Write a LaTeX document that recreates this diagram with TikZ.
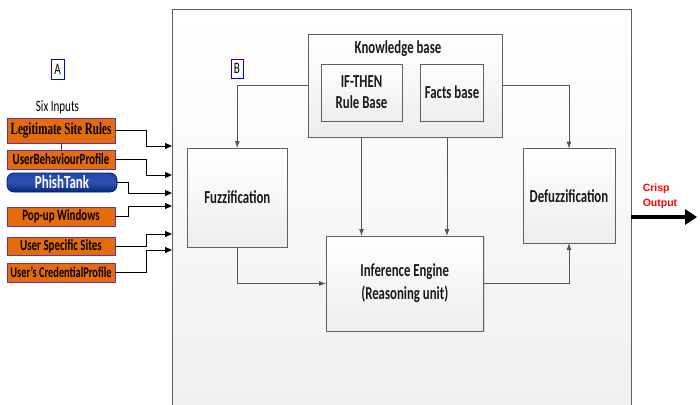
\documentclass[tikz,border=0pt]{standalone}
\usepackage{fontspec}
\setmainfont{Carlito}
\newfontfamily\cbn[FakeStretch=0.7]{Carlito}
\newfontfamily\tnr[FakeStretch=0.65]{Liberation Serif}
\newfontfamily\ari{Liberation Sans}
\usetikzlibrary{arrows.meta,shadows}
\definecolor{orng}{RGB}{228,108,10}
\definecolor{purp}{RGB}{112,48,160}
\definecolor{pblue}{RGB}{10,50,165}
\definecolor{bord}{RGB}{96,96,96}
\definecolor{conn}{RGB}{85,85,85}
\tikzset{
  blk/.style={draw=bord, line width=0.8pt, top color=white, bottom color=gray!14,
    inner sep=0pt, outer sep=0pt, align=center, text=black!90,
    font=\cbn\bfseries\fontsize{18.3}{21}\selectfont,
    drop shadow={opacity=0.25, shadow xshift=1.2pt, shadow yshift=-1.2pt}},
  inp/.style={draw=purp, line width=0.9pt, fill=orng, inner sep=0pt, outer sep=0pt,
    minimum width=108pt, text=black,
    font=\cbn\bfseries\fontsize{15.6}{16}\selectfont},
  garr/.style={draw=conn, line width=0.8pt, -{Latex[length=7pt,width=5pt]}},
  barr/.style={draw=black, line width=1pt, -{Triangle[length=7pt,width=6pt]}},
  tag/.style={draw=blue, line width=0.8pt, fill=white, inner sep=0pt,
    font=\cbn\fontsize{16}{16}\selectfont}
}
\begin{document}
\begin{tikzpicture}[x=1pt,y=-1pt]
\useasboundingbox (0,0) rectangle (700,404);
% system frame (open at the bottom of the picture)
\node[draw=gray!75!black, line width=0.9pt, top color=white, bottom color=gray!12,
  inner sep=0pt, outer sep=0pt, anchor=north west,
  minimum width=459pt, minimum height=404pt] (sys) at (172,9.5) {};

% knowledge base
\node[blk, minimum width=194pt, minimum height=103pt] (kb) at (405,85.5) {};
\node[font=\cbn\bfseries\fontsize{18.3}{21}\selectfont, text=black!90, inner sep=0pt] (kbt) at (398,49) {Knowledge base};
\node[blk, minimum width=81pt, minimum height=57pt] (rule) at (361.5,92.5) {IF-THEN\\Rule Base};
\node[blk, minimum width=62.5pt, minimum height=57pt] (facts) at (452,92.5) {Facts base};

% main blocks
\node[blk, minimum width=99.4pt, minimum height=99pt] (fuzz) at (237.3,197.5) {Fuzzification};
\node[blk, minimum width=92pt, minimum height=94.4pt] (defz) at (569,195.8) {Defuzzification};
\node[blk, minimum width=157.5pt, minimum height=95pt,
  font=\cbn\bfseries\fontsize{18.3}{23}\selectfont] (inf) at (404.75,283.5) {Inference Engine\\(Reasoning unit)};

% tags
\node[tag, minimum width=13pt, minimum height=20pt] (ta) at (57.5,69) {A};
\node[tag, minimum width=12pt, minimum height=19pt] (tb) at (237,68.5) {B};

% inner connectors
\draw[garr] (kb.west) -| (fuzz.north);
\draw[garr] (kb.east) -| (defz.north);
\draw[garr] (rule.center |- kb.south) -- (rule.center |- inf.north);
\draw[garr] ([xshift=-5pt]facts.center |- kb.south) -- ([xshift=-5pt]facts.center |- inf.north);
\draw[garr] (fuzz.south) |- (inf.west);
\draw[garr] (inf.east) -| (defz.south);

% inputs
\node[font=\cbn\fontsize{15.8}{16}\selectfont, inner sep=0pt] (six) at (57.5,107) {Six Inputs};
\node[inp, minimum height=25pt, font=\tnr\bfseries\fontsize{17}{17}\selectfont] (legit) at (61,130.5) {Legitimate Site Rules};
\node[inp, minimum height=19pt] (ubp) at (61,159.5) {UserBehaviourProfile};
\node[draw=pblue!60!black, line width=0.8pt, top color=pblue!90!white, bottom color=pblue!75!black,
  middle color=pblue!85!white, rounded corners=7pt, minimum width=110pt, minimum height=19pt,
  inner sep=0pt, outer sep=0pt, text=white, font=\cbn\bfseries\fontsize{18.5}{18}\selectfont] (pt) at (62,182.5) {PhishTank};
\node[inp, minimum height=19pt] (pop) at (61,216.5) {Pop-up Windows};
\node[inp, minimum height=18pt] (uss) at (61,246) {User Specific Sites};
\node[inp, minimum height=19pt, font=\cbn\bfseries\fontsize{14.8}{16}\selectfont] (ucp) at (61,272.5) {User’s CredentialProfile};

\draw[black!80, line width=0.8pt] (legit) -- (ubp);

\coordinate (t1) at (172,146);
\coordinate (t2) at (172,175);
\coordinate (t3) at (172,193);
\coordinate (t4) at (172,206);
\coordinate (t5) at (172,234);
\coordinate (t6) at (172,250);
\draw[barr] (legit.east) -- ++(31,0) |- (t1);
\draw[barr] (ubp.east) -- ++(31,0) |- (t2);
\draw[barr] (pt.east) -- ++(11,0) |- (t3);
\draw[barr] (pop.east) -- ++(13,0) |- (t4);
\draw[barr] (uss.east) -- ++(31,0) |- (t5);
\draw[barr] (ucp.east) -- ++(31,0) |- (t6);

% crisp output
\coordinate (o1) at (631,217);
\coordinate (o2) at (697,217);
\draw[line width=4.5pt, -{Triangle[length=12pt,width=15pt]}] (o1) -- (o2);
\node[text=red, align=left, inner sep=0pt, font=\ari\bfseries\fontsize{10.5}{15}\selectfont] (crisp) at (660,196) {Crisp\\Output};
\end{tikzpicture}
\end{document}
